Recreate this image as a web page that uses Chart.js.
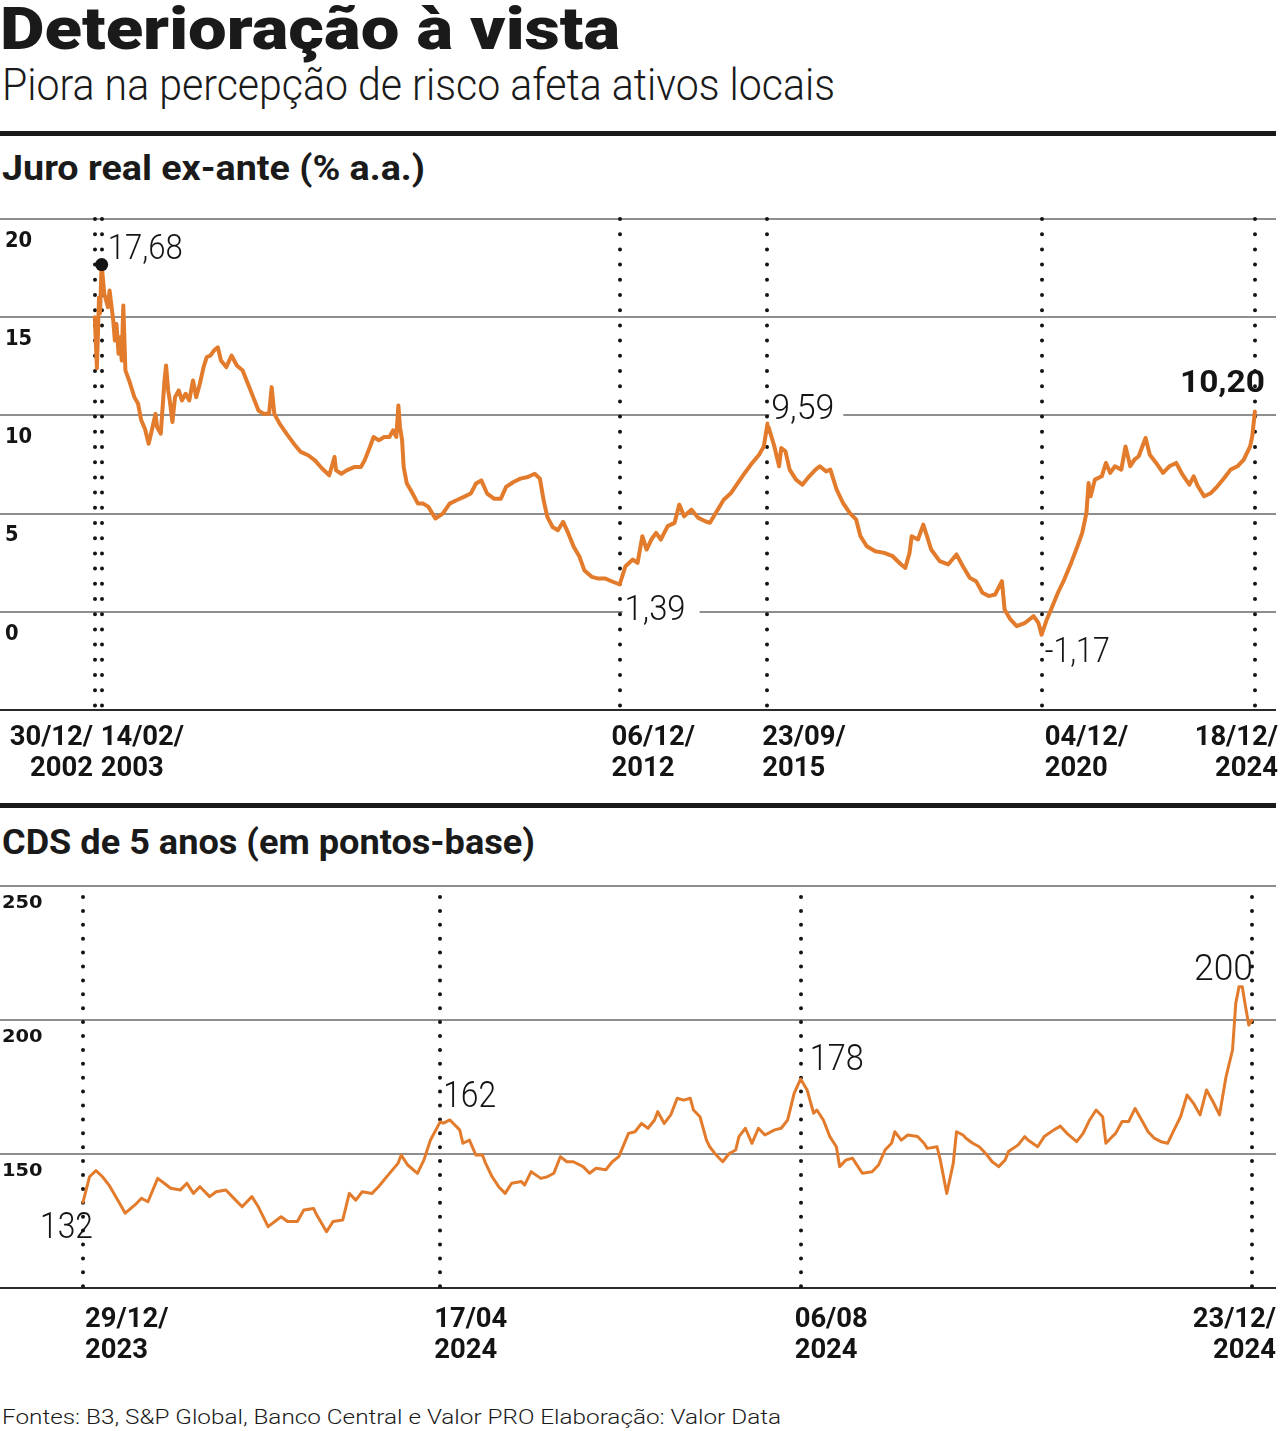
<!DOCTYPE html>
<html lang="pt-BR">
<head>
<meta charset="utf-8">
<title>Deterioração à vista</title>
<script src="https://cdn.jsdelivr.net/npm/chart.js@4.4.1/dist/chart.umd.min.js"></script>
<style>
  html, body { margin: 0; padding: 0; background: #fff; }
  body { width: 1280px; height: 1431px; position: relative; overflow: hidden; font-family: Roboto, "Noto Sans", sans-serif; color: #1a1a1a; }
  .t { position: absolute; white-space: nowrap; line-height: 1; transform-origin: 0 0; }
  .rule { position: absolute; left: 0; width: 1276px; height: 5px; background: #1a1a1a; }
  canvas { position: absolute; left: 0; }
</style>
</head>
<body>
<div class="t" data-w="620" style="left:0;top:-1.5px;font-size:59px;font-weight:900;">Deterioração à vista</div>
<div class="t" data-w="833" style="left:2px;top:62px;font-size:45px;font-weight:300;">Piora na percepção de risco afeta ativos locais</div>
<div class="rule" style="top:131px;"></div>
<div class="t" data-w="423" style="left:2px;top:150.5px;font-size:35px;font-weight:700;">Juro real ex-ante (% a.a.)</div>
<canvas id="c1" width="1280" height="600" style="top:200px;"></canvas>
<div class="rule" style="top:803px;"></div>
<div class="t" data-w="533" style="left:2px;top:825px;font-size:35px;font-weight:700;">CDS de 5 anos (em pontos-base)</div>
<canvas id="c2" width="1280" height="500" style="top:870px;"></canvas>
<div class="t" data-w="779" style="left:2px;top:1407px;font-size:21px;font-weight:300;">Fontes: B3, S&amp;P Global, Banco Central e Valor PRO Elaboração: Valor Data</div>

<script>
// ---------------- DATA: Juro real ex-ante (% a.a.) ----------------
const juroYears = [
  2002.99, 2003.03, 2003.07, 2003.09, 2003.12, 2003.17, 2003.24, 2003.27, 2003.34, 2003.37,
  2003.40, 2003.44, 2003.47, 2003.50, 2003.53, 2003.57, 2003.64, 2003.74, 2003.81, 2003.87,
  2003.94, 2004.01, 2004.07, 2004.14, 2004.17, 2004.24, 2004.31, 2004.34, 2004.38, 2004.41,
  2004.46, 2004.51, 2004.58, 2004.64, 2004.71, 2004.78, 2004.85, 2004.91, 2004.98, 2005.05,
  2005.11, 2005.18, 2005.25, 2005.32, 2005.38, 2005.48, 2005.58, 2005.68, 2005.79, 2005.89,
  2005.99, 2006.09, 2006.19, 2006.29, 2006.34, 2006.39, 2006.49, 2006.62, 2006.76, 2006.89,
  2007.03, 2007.16, 2007.29, 2007.43, 2007.53, 2007.56, 2007.66, 2007.76, 2007.90, 2008.03,
  2008.10, 2008.20, 2008.27, 2008.37, 2008.47, 2008.57, 2008.64, 2008.70, 2008.74, 2008.77,
  2008.81, 2008.84, 2008.90, 2009.01, 2009.11, 2009.21, 2009.31, 2009.44, 2009.58, 2009.71,
  2009.84, 2009.98, 2010.11, 2010.21, 2010.31, 2010.42, 2010.55, 2010.68, 2010.78, 2010.92,
  2011.05, 2011.19, 2011.32, 2011.42, 2011.49, 2011.56, 2011.66, 2011.76, 2011.86, 2011.96,
  2012.06, 2012.17, 2012.26, 2012.40, 2012.53, 2012.66, 2012.80, 2012.93, 2013.04, 2013.18,
  2013.27, 2013.36, 2013.44, 2013.53, 2013.62, 2013.71, 2013.84, 2013.97, 2014.06, 2014.15,
  2014.29, 2014.42, 2014.55, 2014.64, 2014.77, 2014.90, 2015.04, 2015.17, 2015.30, 2015.44,
  2015.57, 2015.66, 2015.73, 2015.86, 2015.95, 2015.99, 2016.07, 2016.15, 2016.27, 2016.39,
  2016.52, 2016.64, 2016.72, 2016.84, 2016.92, 2017.04, 2017.16, 2017.29, 2017.41, 2017.49,
  2017.61, 2017.77, 2017.94, 2018.10, 2018.26, 2018.34, 2018.42, 2018.46, 2018.58, 2018.68,
  2018.75, 2018.83, 2018.99, 2019.15, 2019.31, 2019.43, 2019.56, 2019.68, 2019.80, 2019.92,
  2020.04, 2020.17, 2020.22, 2020.33, 2020.45, 2020.61, 2020.77, 2020.86, 2020.92, 2021.02,
  2021.10, 2021.23, 2021.35, 2021.48, 2021.60, 2021.69, 2021.77, 2021.81, 2021.85, 2021.93,
  2022.06, 2022.14, 2022.22, 2022.31, 2022.43, 2022.51, 2022.60, 2022.68, 2022.76, 2022.89,
  2022.97, 2023.09, 2023.22, 2023.34, 2023.47, 2023.59, 2023.72, 2023.80, 2023.88, 2024.00,
  2024.13, 2024.25, 2024.38, 2024.50, 2024.63, 2024.75, 2024.87, 2024.91, 2024.96
];
const juroValues = [
  15.0, 12.4, 16.0, 15.2, 17.68, 16.19, 15.51, 16.36, 14.83, 13.81,
  14.66, 13.14, 13.98, 12.80, 15.6, 12.29, 11.78, 10.93, 10.59, 9.75,
  9.32, 8.56, 9.24, 10.08, 9.41, 9.07, 11.78, 12.54, 11.27, 10.76,
  9.66, 10.93, 11.27, 10.76, 11.10, 10.76, 11.78, 10.93, 11.61, 12.46,
  12.97, 13.05, 13.31, 13.47, 12.80, 12.46, 13.05, 12.54, 12.29, 11.61,
  10.93, 10.25, 10.08, 10.08, 11.44, 10.08, 9.58, 9.07, 8.56, 8.14,
  7.97, 7.71, 7.31, 6.95, 7.88, 7.20, 7.03, 7.20, 7.37, 7.37,
  7.71, 8.39, 8.90, 8.73, 8.90, 8.90, 9.24, 8.90, 10.51, 9.41,
  8.73, 7.37, 6.53, 6.02, 5.51, 5.51, 5.34, 4.75, 5.00, 5.51,
  5.68, 5.85, 6.02, 6.53, 6.69, 6.02, 5.76, 5.76, 6.36, 6.61,
  6.78, 6.86, 7.03, 6.78, 5.68, 4.83, 4.32, 4.15, 4.58, 3.98,
  3.31, 2.80, 2.12, 1.78, 1.69, 1.69, 1.53, 1.39, 2.32, 2.66,
  2.49, 3.85, 3.17, 3.68, 4.02, 3.68, 4.36, 4.53, 5.46, 4.86,
  5.20, 4.78, 4.61, 4.53, 5.12, 5.71, 6.05, 6.56, 7.07, 7.58,
  8.00, 8.42, 9.59, 8.42, 7.41, 8.34, 8.17, 7.24, 6.73, 6.47,
  6.90, 7.24, 7.41, 7.15, 7.24, 6.22, 5.54, 5.03, 4.69, 3.85,
  3.34, 3.08, 3.00, 2.83, 2.41, 2.24, 3.00, 3.85, 3.68, 4.44,
  3.85, 3.17, 2.58, 2.41, 2.92, 2.32, 1.73, 1.56, 0.97, 0.80,
  0.88, 1.56, 0.12, -0.39, -0.73, -0.56, -0.22, -0.56, -1.17, -0.39,
  0.12, 0.97, 1.64, 2.49, 3.34, 4.02, 5.03, 6.56, 5.88, 6.73,
  6.90, 7.58, 7.07, 7.41, 7.24, 8.42, 7.41, 7.75, 7.92, 8.85,
  8.00, 7.58, 7.07, 7.41, 7.58, 6.98, 6.47, 6.90, 6.39, 5.88,
  6.05, 6.39, 6.81, 7.24, 7.41, 7.75, 8.42, 8.93, 10.20
];
const juroYTicks = [0, 5, 10, 15, 20];
const juroYMin = -5, juroYMax = 20;
const juroMarkDates = ['30/12/2002', '14/02/2003', '06/12/2012', '23/09/2015', '04/12/2020', '18/12/2024'];
const juroMarkLabels = [['30/12/', '2002'], ['14/02/', '2003'], ['06/12/', '2012'], ['23/09/', '2015'], ['04/12/', '2020'], ['18/12/', '2024']];
const juroNoteDates = ['14/02/2003', '06/12/2012', '23/09/2015', '04/12/2020', '18/12/2024'];
const juroNoteValues = [17.68, 1.39, 9.59, -1.17, 10.20];

// ---------------- DATA: CDS de 5 anos (pontos-base) ----------------
const cdsStart = '29/12/2023';
const cdsDays = [
  0, 2, 4, 6, 8, 11, 13, 16, 18, 20, 23, 25, 27, 30, 32, 34, 36, 39, 41, 44,
  47, 49, 52, 54, 57, 61, 63, 66, 68, 71, 72, 75, 77, 80, 82, 84, 86, 89, 91, 94,
  97, 98, 100, 103, 105, 107, 110,
  111, 113, 116, 117, 119, 121, 123, 124, 126, 128, 130, 132, 135, 136, 138, 141, 143, 145, 147, 149,
  151, 154, 156, 158, 161, 163, 165, 168, 170, 172, 174, 176, 177, 179, 181, 183, 185, 187, 188, 190,
  192, 193, 195, 197, 199, 201, 202, 204, 206, 208, 210, 213, 215, 217, 219, 221,
  223, 225, 226, 228, 230, 232, 233, 235, 237, 238, 240, 243, 245, 247, 249, 250, 252, 254, 257, 259,
  260, 263, 264, 266, 268, 269, 271, 272, 274, 276, 278, 280, 282, 284, 285, 288, 290, 291, 294, 296,
  299, 301, 303, 306, 308, 310, 312, 314, 315, 317, 318, 320, 322, 324, 326, 328, 330, 332, 334, 336,
  338, 340, 342, 344, 346, 348, 350, 352, 354, 355, 356, 357, 358, 359, 360
];
const cdsValues = [
  132, 141.5, 143.8, 141.5, 138.4, 132.2, 127.9, 131.0, 133.5, 132.2, 140.9, 139.1, 137.2, 136.6, 139.1, 135.3, 137.8, 134.1, 135.9, 136.6,
  132.8, 130.3, 134.1, 130.3, 122.9, 126.6, 124.8, 124.8, 129.1, 129.7, 127.2, 121.0, 124.8, 125.4, 135.3, 132.8, 135.9, 135.3, 137.8, 142.2,
  146.5, 149.6, 145.9, 142.8, 147.8, 155.2, 162,
  161.5, 162.7, 159.0, 154.0, 155.2, 149.6, 149.6, 146.5, 141.5, 137.8, 135.3, 139.1, 139.7, 138.4, 143.4, 140.9, 141.5, 142.8, 149.0, 147.1,
  147.1, 145.3, 142.8, 144.7, 144.1, 147.1, 149.0, 157.7, 158.3, 161.4, 159.6, 162.7, 165.8, 161.4, 164.6, 170.8, 170.1, 170.8, 166.4, 163.9,
  155.2, 152.7, 149.6, 147.1, 150.2, 151.5, 156.5, 159.6, 154.0, 159.6, 157.1, 159.0, 159.6, 162.7, 172.6, 178,
  173.9, 165.2, 166.4, 162.7, 156.5, 152.7, 145.3, 147.8, 148.4, 146.5, 142.8, 143.4, 145.9, 151.5, 154.0, 158.3, 155.2, 157.1, 156.5, 154.0,
  152.1, 152.7, 147.8, 135.3, 146.5, 158.3, 157.1, 155.8, 154.0, 152.7, 150.2, 147.1, 145.3, 147.8, 150.9, 153.4, 156.5, 155.2, 152.7, 156.5,
  159.0, 160.4, 157.7, 154.6, 157.7, 162.7, 166.4, 163.9, 154.0, 156.5, 157.7, 162.1, 162.1, 167.0, 162.7, 158.3, 155.8, 154.6, 154.0, 159.0,
  163.9, 172.0, 168.9, 164.6, 173.9, 169.5, 164.6, 178.8, 188.8, 206.2, 212.4, 212.4, 205.0, 198.1, 200
];
const cdsYTicks = [150, 200, 250];
const cdsYMin = 100, cdsYMax = 250;
const cdsMarkDates = ['29/12/2023', '17/04/2024', '06/08/2024', '23/12/2024'];
const cdsMarkLabels = [['29/12/', '2023'], ['17/04', '2024'], ['06/08', '2024'], ['23/12/', '2024']];
const cdsNoteDates = ['29/12/2023', '17/04/2024', '06/08/2024', '23/12/2024'];
const cdsNoteValues = [132, 162, 178, 200];

// ---------------- helpers ----------------
function parseDMY(s) { const [d, m, y] = s.split('/').map(Number); return { d, m, y }; }
function toYear(s) {
  const { d, m, y } = parseDMY(s);
  const a = Date.UTC(y, 0, 1), b = Date.UTC(y + 1, 0, 1);
  return y + (Date.UTC(y, m - 1, d) - a) / (b - a);
}
function toDay(s) {
  const p = parseDMY(s), q = parseDMY(cdsStart);
  return (Date.UTC(p.y, p.m - 1, p.d) - Date.UTC(q.y, q.m - 1, q.d)) / 86400000;
}
function drawText(ctx, text, x, y, font, width, align, sx) {
  ctx.save();
  ctx.font = font;
  const w = ctx.measureText(text).width;
  const k = width ? width / w : (sx || 1);
  ctx.translate(x, y);
  ctx.scale(k, 1);
  ctx.textAlign = align || 'left';
  ctx.textBaseline = 'alphabetic';
  ctx.fillText(text, 0, 0);
  ctx.restore();
  return w * k;
}

const ORANGE = '#e27b2b';
const INK = '#141414';

function overlayPlugin(cfg) {
  const s = cfg.style;
  return {
    id: 'overlay',
    beforeDatasetsDraw(chart) {
      const { ctx, chartArea: a, scales: { x } } = chart;
      ctx.save();
      ctx.strokeStyle = INK;
      ctx.lineWidth = s.dotSize;
      ctx.lineCap = 'round';
      ctx.setLineDash([0, s.dotGap]);
      cfg.markX.forEach(v => {
        const px = Math.round(x.getPixelForValue(v));
        ctx.beginPath();
        ctx.moveTo(px, a.top + s.dotTop);
        ctx.lineTo(px, a.bottom);
        ctx.stroke();
      });
      ctx.restore();
    },
    afterDatasetsDraw(chart) {
      const { ctx, chartArea: a, scales: { x, y } } = chart;
      ctx.save();
      ctx.fillStyle = INK;
      cfg.yTicks.forEach(v => {
        drawText(ctx, String(v), a.left + s.yLabel.dx, y.getPixelForValue(v) + s.yLabel.dy, s.yLabel.font, null, 'left', s.yLabel.sx);
      });
      cfg.markX.forEach((v, i) => {
        const p = s.xLabel.pos[i];
        const px = x.getPixelForValue(v) + p.dx;
        drawText(ctx, cfg.markLabels[i][0], px, a.bottom + s.xLabel.line1, s.xLabel.font, null, p.align, s.xLabel.sx);
        drawText(ctx, cfg.markLabels[i][1], px, a.bottom + s.xLabel.line2, s.xLabel.font, null, p.align, s.xLabel.sx);
      });
      cfg.noteX.forEach((v, i) => {
        const n = s.notes[i];
        const val = cfg.noteY[i];
        const text = cfg.fmt(val);
        const px = x.getPixelForValue(v) + n.dx;
        const py = y.getPixelForValue(val) + n.dy;
        if (n.bg) {
          const left = n.align === 'left' ? px : px - n.w;
          ctx.save();
          ctx.fillStyle = '#ffffff';
          ctx.fillRect(left - n.bg[0], py - 28, n.w + n.bg[0] + n.bg[1], 34);
          ctx.restore();
        }
        drawText(ctx, text, px, py, n.font, n.w, n.align);
      });
      ctx.restore();
    }
  };
}

function buildChart(canvasId, cfg) {
  const gridColor = c => (c.tick && c.tick.value === cfg.yMin) ? '#2a2a2a' : '#8e8e8e';
  const datasets = [{
    data: cfg.xs.map((v, i) => ({ x: v, y: cfg.ys[i] })),
    borderColor: ORANGE,
    borderWidth: cfg.style.lineWidth,
    pointRadius: 0,
    pointHoverRadius: 0,
    borderJoinStyle: 'round',
    borderCapStyle: 'round',
    tension: 0,
    order: 2
  }];
  if (cfg.dot) {
    datasets.push({
      data: [cfg.dot],
      showLine: false,
      pointRadius: 6.5,
      pointHoverRadius: 6.5,
      pointBackgroundColor: INK,
      pointBorderWidth: 0,
      order: 1
    });
  }
  return new Chart(document.getElementById(canvasId), {
    type: 'line',
    data: { datasets },
    options: {
      responsive: false,
      devicePixelRatio: 1,
      animation: false,
      layout: { padding: cfg.style.padding, autoPadding: false },
      plugins: { legend: { display: false }, tooltip: { enabled: false } },
      events: [],
      scales: {
        x: { type: 'linear', display: false, min: cfg.xMin, max: cfg.xMax },
        y: {
          type: 'linear',
          min: cfg.yMin, max: cfg.yMax,
          afterBuildTicks: axis => { axis.ticks = [cfg.yMin, ...cfg.yTicks].map(v => ({ value: v })); },
          ticks: { display: false },
          border: { display: false },
          grid: { drawTicks: false, lineWidth: 2, color: gridColor }
        }
      }
    },
    plugins: [overlayPlugin(cfg)]
  });
}

const lightFont = n => `300 ${n}px Roboto`;

const juroCfg = {
  xs: juroYears, ys: juroValues,
  xMin: 2001.195, xMax: 2025.36,
  yMin: juroYMin, yMax: juroYMax, yTicks: juroYTicks,
  markX: juroMarkDates.map(toYear), markLabels: juroMarkLabels,
  noteX: juroNoteDates.map(toYear), noteY: juroNoteValues,
  fmt: v => v.toFixed(2).replace('.', ','),
  dot: { x: toYear(juroNoteDates[0]), y: juroNoteValues[0] },
  style: {
    padding: { top: 19, bottom: 90, left: 0, right: 4 },
    lineWidth: 4,
    dotSize: 4, dotGap: 15.2, dotTop: 0,
    yLabel: { font: 'bold 21px "DejaVu Sans"', sx: 0.93, dx: 5, dy: 27.7 },
    xLabel: { font: 'bold 28px Roboto', sx: 0.98, line1: 35, line2: 66,
      pos: [{ align: 'right', dx: -2 }, { align: 'left', dx: -1 }, { align: 'left', dx: -8 },
            { align: 'left', dx: -5 }, { align: 'left', dx: 3 }, { align: 'right', dx: 23 }] },
    notes: [
      { font: lightFont(35), w: 75, align: 'left', dx: 6, dy: -5.5 },
      { font: lightFont(35), w: 61, align: 'left', dx: 5, dy: 35, bg: [2, 14] },
      { font: lightFont(35), w: 63, align: 'left', dx: 4, dy: -4, bg: [2, 9] },
      { font: lightFont(35), w: 65, align: 'left', dx: 3, dy: 27 },
      { font: 'bold 32px Roboto', w: 85, align: 'right', dx: 10, dy: -19 }
    ]
  }
};

const cdsCfg = {
  xs: cdsDays, ys: cdsValues,
  xMin: -25.56, xMax: 367.39,
  yMin: cdsYMin, yMax: cdsYMax, yTicks: cdsYTicks,
  markX: cdsMarkDates.map(toDay), markLabels: cdsMarkLabels,
  noteX: cdsNoteDates.map(toDay), noteY: cdsNoteValues,
  fmt: v => String(v),
  dot: null,
  style: {
    padding: { top: 16, bottom: 82, left: 0, right: 4 },
    lineWidth: 3,
    dotSize: 4, dotGap: 13.9, dotTop: 11,
    yLabel: { font: 'bold 18px "DejaVu Sans"', sx: 1.08, dx: 2, dy: 22 },
    xLabel: { font: 'bold 28px Roboto', sx: 0.98, line1: 38.7, line2: 70,
      pos: [{ align: 'left', dx: 2 }, { align: 'left', dx: -6 }, { align: 'left', dx: -6 }, { align: 'right', dx: 24 }] },
    notes: [
      { font: lightFont(37), w: 53, align: 'right', dx: 10, dy: 36 },
      { font: lightFont(37), w: 53, align: 'left', dx: 3, dy: -15 },
      { font: lightFont(37), w: 54, align: 'left', dx: 9, dy: -9 },
      { font: lightFont(37), w: 59, align: 'right', dx: 1, dy: -40 }
    ]
  }
};

function fitHtml() {
  document.querySelectorAll('.t[data-w]').forEach(el => {
    el.style.transform = 'none';
    const w = el.getBoundingClientRect().width;
    if (w > 0) el.style.transform = `scaleX(${Number(el.dataset.w) / w})`;
  });
}

function start() {
  fitHtml();
  buildChart('c1', juroCfg);
  buildChart('c2', cdsCfg);
}
if (document.fonts && document.fonts.ready) {
  document.fonts.ready.then(start);
} else {
  start();
}
</script>
</body>
</html>
